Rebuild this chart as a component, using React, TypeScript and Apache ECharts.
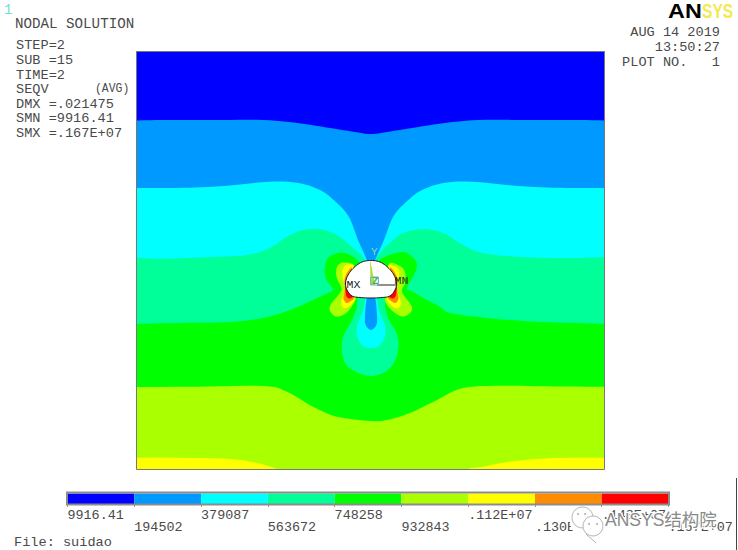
import React, { useEffect, useRef } from "react";
import * as echarts from "echarts";

type P = number[];

// Contour level colours, from lowest to highest stress
const levelColors = ["#0000ff", "#0099ff", "#00ffff", "#00ff99", "#00ff00", "#aaff00", "#ffff00", "#ff8c00", "#ff0000"];
const levelLabels = ["9916.41", "194502", "379087", "563672", "748258", "932843", ".112E+07", ".130E+07", ".148E+07", ".167E+07"];

// Contour boundaries, in plot units, left to right; each fills down to the bottom of the model
const blueTop: P[] = [[130,120.7],[163,120],[213,120],[263,120],[297,123],[330,128],[355,132],[371,134],[387,132],[412,128],[445,123],[479,120],[529,120],[579,120],[612,120.7]];
const cyanTop: P[] = [[130,188],[175,188],[213,186.7],[245,184],[270,181.7],[297,182.7],[320,190],[337,203],[349,217],[358,240],[366,258],[371,272],[376,258],[384,240],[393,217],[405,203],[422,190],[445,182.7],[472,181.7],[497,184],[529,186.7],[567,188],[612,188]];
const tealTop: P[] = [[130,257],[157,258.7],[213,257],[247,255],[270,248],[287,236.7],[303,230],[320,229.3],[337,235],[353,248],[364,258],[371,272],[377,257],[390,243],[403,233],[423,229],[443,233],[463,245],[483,253],[520,257],[570,258],[612,257]];
const greenTop: P[] = [[130,324],[180,323],[230,322],[263,318],[290,310],[313,300],[328,293],[333,289],[326,279],[325,268],[328,258],[340,252.7],[352,256],[362,265],[371,275],[380,260],[390,255],[402,252],[410,255],[416.7,263],[415,273],[407,288],[413,291.7],[427,300],[440,306.7],[450,313],[487,318],[537,321.7],[612,324]];
const limeTop: P[] = [[130,387],[197,386.7],[263,386],[287,391.7],[313,406.7],[337,416.7],[371,421],[387,420],[410,413],[437,400],[463,388],[503,385.7],[555,386.5],[612,386.7]];
const yellowTop: P[] = [[130,457.7],[173,457.7],[230,459],[257,463],[277,469],[290,476],[452,476],[467,469],[483,466.7],[510,461.7],[553,458],[612,457.7]];

// Closed contours round the opening
const tealDrop: P[] = [[371,290],[358,298],[356.7,307],[352,320],[343.5,336],[341.7,348],[345,363],[356,372],[370.5,376],[385,372],[395,361],[398.5,345],[396,332],[389,320],[385,307],[384,298]];
const cyanDrop: P[] = [[371,290],[365,299],[363,310],[357,326],[357,336],[362,345],[371,348],[380,345],[385,336],[385,326],[379,310],[377,299]];
const blueDrop: P[] = [[371,290],[366.7,299],[365,316.7],[365.7,325],[371,330],[376.3,325],[377,316.7],[375.3,299]];
const limeLeft: P[] = [[353,266],[343,262.5],[337,267],[336.5,277],[341,287],[340,293],[331,304],[330,311],[336,316.5],[345,314],[352,306],[356,297],[352,285]];
const limeRight: P[] = [[389,264],[400,266],[405,272],[405,283],[402,292],[411,305],[411,312],[403,316.5],[395,313],[387,305],[385,297],[390,285]];
const yellowLeft: P[] = [[354,266],[347,264.5],[342.5,270],[343,279],[346,288],[344,294],[341,303],[344,308],[350,306],[355,298],[350,285]];
const yellowRight: P[] = [[388,266],[395,266.5],[399,271],[398.5,279],[396,288],[398,294],[401,303],[398,308],[392,306],[387,298],[392,285]];
const orangeLeft: P[] = [[352,268],[347,273],[344.5,280],[345,288],[344,295],[343.5,299],[346.5,303],[351,301],[354,297],[350,285]];
const orangeRight: P[] = [[390,268],[395,273],[397.5,280],[397,288],[398,295],[398.5,299],[395.5,303],[391,301],[388,297],[392,285]];
const redLeft: P[] = [[347,279],[345,283],[345.5,291],[346.5,296.5],[349.5,298.5],[352.5,297],[352,294],[348,290]];
const redRight: P[] = [[395,279],[397,283],[396.5,291],[395.5,296.5],[392.5,298.5],[389.5,297],[390,294],[394,290]];
const opening: P[] = [[371,260.5],[362,262],[354,267.5],[348,275],[345.5,283],[347,290],[352,296],[360,297.5],[371,298],[382,297.5],[390,296],[395,290],[396.5,283],[394,275],[388,267.5],[380,262]];

const MONO = '"Liberation Mono", monospace';
const INK = "#4a4a4a";

function spline(pts: P[], closed: boolean): P[] {
  const n = pts.length;
  const at = (i: number) => (closed ? pts[(i + n) % n] : pts[Math.max(0, Math.min(n - 1, i))]);
  const out: P[] = [];
  const segs = closed ? n : n - 1;
  for (let i = 0; i < segs; i++) {
    const [a, b, c, d] = [at(i - 1), at(i), at(i + 1), at(i + 2)];
    for (let k = 0; k < 6; k++) {
      const t = k / 6, t2 = t * t, t3 = t2 * t;
      out.push([0, 1].map((j) =>
        0.5 * (2 * b[j] + (c[j] - a[j]) * t + (2 * a[j] - 5 * b[j] + 4 * c[j] - d[j]) * t2 + (3 * b[j] - a[j] - 3 * c[j] + d[j]) * t3)));
    }
  }
  if (!closed) out.push(pts[n - 1]);
  return out;
}

const PLOT = { xMin: 136.5, xMax: 604.5, yMin: 51.5, yMax: 469 };

function fillSeries(points: P[], color: string, stroke?: string) {
  return {
    type: "custom",
    coordinateSystem: "cartesian2d",
    xAxisIndex: 0,
    yAxisIndex: 0,
    clip: true,
    silent: true,
    data: [points[0]],
    renderItem: (_p: any, api: any) => ({
      type: "polygon",
      shape: { points: points.map((q) => api.coord(q)) },
      style: { fill: color, stroke: stroke || undefined, lineWidth: stroke ? 1 : 0 },
    }),
  };
}
const below = (curve: P[], color: string) =>
  fillSeries([...spline(curve, false), [620, 480], [120, 480]], color);
const blob = (shape: P[], color: string, stroke?: string) => fillSeries(spline(shape, true), color, stroke);

const txt = (text: string, x: number, y: number, extra: any = {}, styleExtra: any = {}) => ({
  type: "text", x, y, z: 100, silent: true, ...extra,
  style: { text, font: `13.6px ${MONO}`, fill: INK, verticalAlign: "middle", ...styleExtra },
});

export default function App() {
  const ref = useRef<HTMLDivElement>(null);
  useEffect(() => {
    const chart = echarts.init(ref.current!, undefined, { renderer: "svg" });
    const [c0, c1, c2, c3, c4, c5, c6, c7, c8] = levelColors;
    const bubble = "#b4b4b4";
    chart.setOption({
      animation: false,
      backgroundColor: "#ffffff",
      grid: [
        { left: PLOT.xMin, top: PLOT.yMin, width: PLOT.xMax - PLOT.xMin, height: PLOT.yMax - PLOT.yMin, show: false },
        { left: 67.5, top: 493.5, width: 601, height: 10.5, show: false },
      ],
      xAxis: [
        { type: "value", gridIndex: 0, min: PLOT.xMin, max: PLOT.xMax, show: false },
        {
          type: "value", gridIndex: 1, min: 0, max: 9, interval: 1,
          splitLine: { show: false },
          axisLine: { show: true, onZero: false, lineStyle: { color: "#5c5c5c", width: 1.5 } },
          axisTick: { show: true, length: 3, lineStyle: { color: "#999999" } },
          axisLabel: {
            show: true, showMinLabel: true, showMaxLabel: true, hideOverlap: false, align: "left", margin: 5,
            fontFamily: MONO, fontSize: 13.4, color: INK, lineHeight: 12,
            formatter: (v: number) => (v % 2 === 1 ? "\n" : "") + levelLabels[v],
          },
        },
      ],
      yAxis: [
        { type: "value", gridIndex: 0, inverse: true, min: PLOT.yMin, max: PLOT.yMax, show: false },
        { type: "value", gridIndex: 1, min: 0, max: 1, show: false },
      ],
      series: [
        fillSeries([[120, 40], [620, 40], [620, 480], [120, 480]], c0),
        below(blueTop, c1),
        below(cyanTop, c2),
        below(tealTop, c3),
        below(greenTop, c4),
        below(limeTop, c5),
        below(yellowTop, c6),
        blob(tealDrop, c3),
        blob(cyanDrop, c2),
        blob(blueDrop, c1),
        blob(limeLeft, c5), blob(limeRight, c5),
        blob(yellowLeft, c6), blob(yellowRight, c6),
        blob(orangeLeft, c7), blob(orangeRight, c7),
        blob(redLeft, c8), blob(redRight, c8),
        blob(opening, "#ffffff", "#1a1a1a"),
        {
          type: "custom", coordinateSystem: "cartesian2d", xAxisIndex: 1, yAxisIndex: 1, silent: true, clip: false,
          data: levelColors.map((_, i) => [i, i + 1]),
          renderItem: (p: any, api: any) => {
            const a = api.coord([api.value(0), 1]);
            const b = api.coord([api.value(1), 0]);
            return { type: "rect", shape: { x: a[0], y: a[1], width: b[0] - a[0], height: b[1] - a[1] }, style: { fill: levelColors[p.dataIndex] } };
          },
        },
      ],
      graphic: [
        { type: "rect", z: 90, silent: true, shape: { x: 136.5, y: 51.5, width: 468, height: 418 }, style: { fill: "none", stroke: "#777777", lineWidth: 1 } },
        { type: "rect", z: 90, silent: true, shape: { x: 67, y: 492.5, width: 602, height: 12 }, style: { fill: "none", stroke: "#8c8c8c", lineWidth: 2 } },
        { type: "line", z: 90, silent: true, shape: { x1: 736.5, y1: 478, x2: 736.5, y2: 550 }, style: { stroke: "#444444", lineWidth: 1 } },
        // triad and element edge inside the opening
        { type: "polygon", z: 95, silent: true, shape: { points: [[370, 259], [370.5, 285], [375, 285]] }, style: { fill: "#a8e040" } },
        { type: "line", z: 95, silent: true, shape: { x1: 377, y1: 285, x2: 396, y2: 285 }, style: { stroke: "#222222", lineWidth: 1 } },
        { type: "rect", z: 95, silent: true, shape: { x: 370.5, y: 277, width: 8, height: 8 }, style: { fill: "none", stroke: "#70b8c8", lineWidth: 1 } },
        txt("Y", 371, 252, {}, { font: `11px ${MONO}`, fill: "#90d8a8" }),
        txt("Z", 372, 281, {}, { font: `bold 11px ${MONO}`, fill: "#50b050" }),
        txt("MX", 346.5, 284.5, {}, { font: `11.5px ${MONO}`, fill: "#222222" }),
        txt("MN", 394.5, 280, {}, { font: `11.5px ${MONO}`, fill: "#222222" }),
        txt("X", 401, 280, {}, { font: `11.5px ${MONO}`, fill: "#2f8f2f" }),
        // header
        txt("1", 4, 10, {}, { font: `14px ${MONO}`, fill: "#70e0d0" }),
        txt("NODAL SOLUTION", 15, 24, {}, { font: `14.2px ${MONO}` }),
        txt("STEP=2", 16, 45),
        txt("SUB =15", 16, 60),
        txt("TIME=2", 16, 75),
        txt("SEQV", 16, 89),
        txt("(AVG)", 95, 89, { scaleX: 0.84 }),
        txt("DMX =.021475", 16, 104),
        txt("SMN =9916.41", 16, 118),
        txt("SMX =.167E+07", 16, 133),
        txt("AUG 14 2019", 720, 32, {}, { textAlign: "right" }),
        txt("13:50:27", 720, 47, {}, { textAlign: "right" }),
        txt("PLOT NO.   1", 720, 62, {}, { textAlign: "right" }),
        txt("AN", 668, 11, { scaleX: 1.17 }, { font: '900 20px "Liberation Sans"', fill: "#000000" }),
        txt("SYS", 702, 11, { scaleX: 0.78 }, { font: 'bold 20px "Liberation Sans"', fill: "#f2ea50" }),
        txt("File: suidao", 14, 542),
        // watermark
        { type: "ellipse", z: 96, silent: true, shape: { cx: 587, cy: 522, rx: 17, ry: 16 }, style: { fill: "#ffffff" } },
        { type: "circle", z: 97, silent: true, shape: { cx: 582.5, cy: 517.5, r: 10.5 }, style: { fill: "none", stroke: bubble, lineWidth: 1 } },
        { type: "circle", z: 97, silent: true, shape: { cx: 593, cy: 526, r: 10 }, style: { fill: "#ffffff", stroke: bubble, lineWidth: 1 } },
        { type: "line", z: 97, silent: true, shape: { x1: 586, y1: 534, x2: 596, y2: 543 }, style: { stroke: bubble, lineWidth: 1 } },
        { type: "circle", z: 97, silent: true, shape: { cx: 578, cy: 514, r: 1 }, style: { fill: bubble } },
        { type: "circle", z: 97, silent: true, shape: { cx: 585, cy: 514, r: 1 }, style: { fill: bubble } },
        { type: "circle", z: 97, silent: true, shape: { cx: 589, cy: 524, r: 1 }, style: { fill: bubble } },
        { type: "circle", z: 97, silent: true, shape: { cx: 597, cy: 524, r: 1 }, style: { fill: bubble } },
        txt("ANSYS结构院", 605, 519.5, { z: 97 }, { font: '17.5px "Liberation Sans", "Noto Sans CJK SC"', fill: "#8a8a8a", stroke: "#ffffff", lineWidth: 2.5 }),
      ],
    });
    return () => chart.dispose();
  }, []);
  return <div ref={ref} style={{ position: "fixed", left: 0, top: 0, width: 738, height: 550 }} />;
}
